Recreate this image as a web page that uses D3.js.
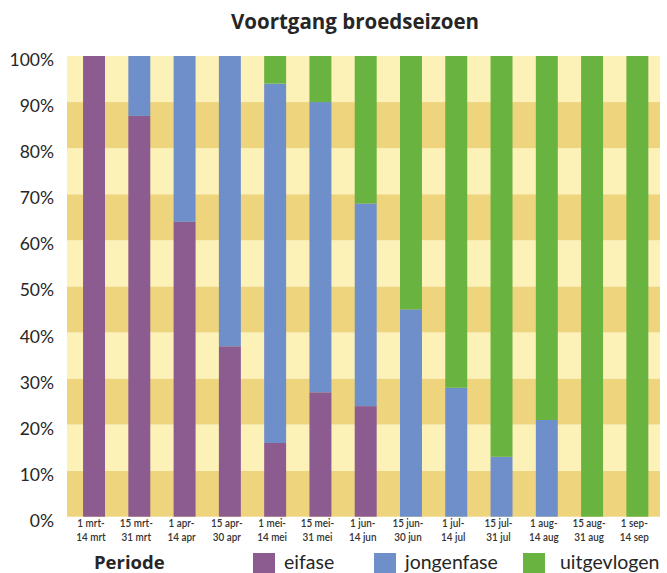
<!DOCTYPE html>
<html>
<head>
<meta charset="utf-8">
<script src="https://cdn.jsdelivr.net/npm/d3@7/dist/d3.min.js"></script>
<style>
  html, body { margin: 0; padding: 0; background: #ffffff; }
  svg { display: block; }
  text { font-family: Lato, "Open Sans", "DejaVu Sans", sans-serif; fill: #262626; }
</style>
</head>
<body>
<div id="chart"></div>
<script>
// Broedperiodes (halve maanden)
const categories = [
  "1 mrt-14 mrt", "15 mrt-31 mrt", "1 apr-14 apr", "15 apr-30 apr",
  "1 mei-14 mei", "15 mei-31 mei", "1 jun-14 jun", "15 jun-30 jun",
  "1 jul-14 jul", "15 jul-31 jul", "1 aug-14 aug", "15 aug-31 aug", "1 sep-14 sep"
];

// Aandeel nesten per fase (%)
const eifase      = [100, 87, 64, 37, 16, 27, 24,  0,  0,  0,  0,   0,   0];
const jongenfase  = [  0, 13, 36, 63, 78, 63, 44, 45, 28, 13, 21,   0,   0];
const uitgevlogen = [  0,  0,  0,  0,  6, 10, 32, 55, 72, 87, 79, 100, 100];

const phases = ["eifase", "jongenfase", "uitgevlogen"];
const phaseColors = ["#8c5b8f", "#6e8fc9", "#69b340"];

const yTicks = [0, 10, 20, 30, 40, 50, 60, 70, 80, 90, 100];

const W = 667, H = 573;
const plot = { left: 67, right: 660, top: 56, bottom: 516.7 };

const svg = d3.select("#chart").append("svg")
  .attr("width", W).attr("height", H);

const y = d3.scaleLinear().domain([0, 100]).range([plot.bottom, plot.top]);
const x = d3.scaleBand().domain(categories)
  .range([71.4, plot.right])
  .paddingInner(0.515)
  .paddingOuter(0.2575);

// Horizontal stripes: alternating dark and pale yellow per 10%
const stripes = d3.range(0, 100, 10);
svg.append("g").selectAll("rect").data(stripes).join("rect")
  .attr("x", plot.left)
  .attr("width", plot.right - plot.left)
  .attr("y", d => y(d + 10))
  .attr("height", d => y(d) - y(d + 10))
  .attr("fill", (d, i) => i % 2 === 0 ? "#eed47d" : "#fcf2b8");

// Stacked bars
const table = categories.map((c, i) => ({
  periode: c, eifase: eifase[i], jongenfase: jongenfase[i], uitgevlogen: uitgevlogen[i]
}));
const series = d3.stack().keys(phases)(table);
const color = d3.scaleOrdinal().domain(phases).range(phaseColors);

svg.append("g").selectAll("g").data(series).join("g")
  .attr("fill", s => color(s.key))
  .selectAll("rect").data(s => s.filter(d => d[1] > d[0])).join("rect")
  .attr("x", d => x(d.data.periode))
  .attr("width", x.bandwidth())
  .attr("y", d => y(d[1]))
  .attr("height", d => y(d[0]) - y(d[1]));

// Y axis (percentages)
const yAxis = svg.append("g")
  .attr("transform", `translate(54,0)`)
  .call(d3.axisLeft(y).tickValues(yTicks).tickFormat(d => d + "%").tickSize(0).tickPadding(0));
yAxis.select(".domain").remove();
yAxis.selectAll("text")
  .attr("dy", "0.55em")
  .style("font-family", "Lato, 'Open Sans', sans-serif")
  .style("font-size", "17.5px")
  .style("fill", "#262626");

// X labels: two lines, narrow type
const xl = svg.append("g").selectAll("g").data(categories).join("g")
  .attr("transform", d => `translate(${x(d) + x.bandwidth() / 2 - 3},527) scale(0.86,1)`);
xl.append("text")
  .attr("text-anchor", "middle")
  .style("font-size", "11.5px")
  .style("font-weight", "600")
  .style("fill", "#333")
  .text(d => d.slice(0, d.indexOf("-") + 1));
xl.append("text")
  .attr("text-anchor", "middle")
  .attr("y", 14.5)
  .style("font-size", "11.5px")
  .style("font-weight", "600")
  .style("fill", "#333")
  .text(d => d.slice(d.indexOf("-") + 1));

// Title
svg.append("text")
  .attr("x", 355).attr("y", 29)
  .attr("text-anchor", "middle")
  .style("font-family", "'Open Sans', Lato, sans-serif")
  .style("font-size", "20.5px")
  .style("font-weight", "bold")
  .text("Voortgang broedseizoen");

// Legend
svg.append("text")
  .attr("x", 94).attr("y", 569)
  .style("font-family", "'Open Sans', Lato, sans-serif")
  .style("font-size", "18.5px")
  .style("font-weight", "bold")
  .text("Periode");

const legendX = [253, 374, 523];
const legend = svg.append("g").selectAll("g").data(phases).join("g")
  .attr("transform", (d, i) => `translate(${legendX[i]},553)`);
legend.append("rect")
  .attr("width", 22).attr("height", 22)
  .attr("fill", d => color(d));
legend.append("text")
  .attr("x", (d, i) => i === 2 ? 37 : 31)
  .attr("y", 16)
  .style("font-size", "19.5px")
  .text(d => d);
</script>
</body>
</html>
